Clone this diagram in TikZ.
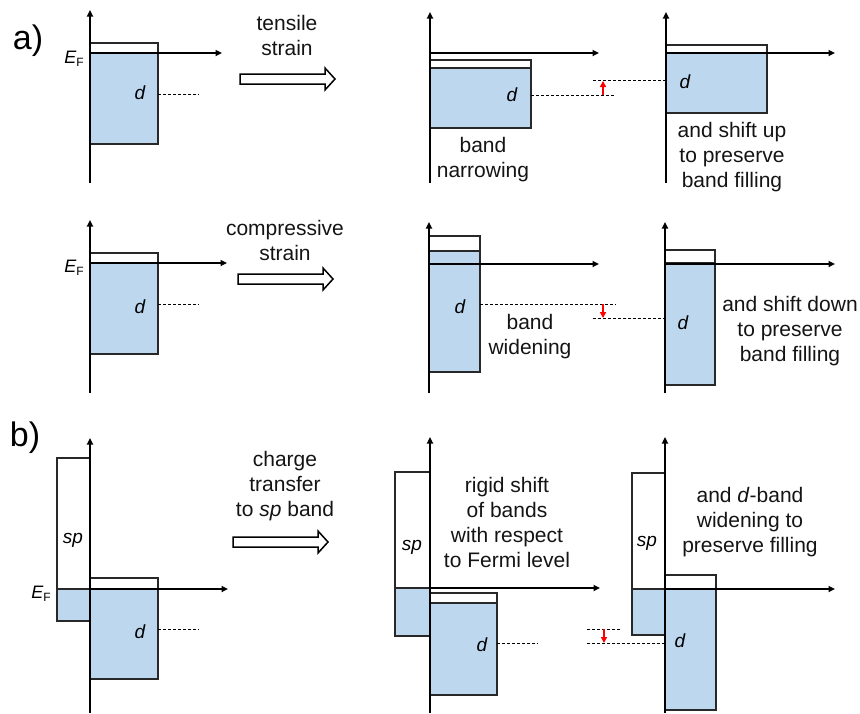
\documentclass[tikz,border=0pt]{standalone}
\usepackage{fontspec}
\setmainfont{Liberation Sans}
\usetikzlibrary{arrows.meta}
\definecolor{bandblue}{RGB}{189,215,238}
\definecolor{edgegray}{RGB}{40,40,40}
\definecolor{inkgray}{RGB}{20,20,20}
\begin{document}
\begin{tikzpicture}[x=1pt,y=-1pt,
  axis/.style={line width=1.7pt, -{Triangle[length=6.5pt,width=6pt]}},
  filledband/.style={fill=bandblue, draw=edgegray, line width=1.3pt},
  emptyband/.style={fill=white, draw=edgegray, line width=1.3pt},
  guide/.style={dash pattern=on 3pt off 2pt, line width=0.9pt},
  shiftarrow/.style={red, line width=1.5pt, -{Triangle[length=6pt,width=6pt]}},
  blockarrow/.style={draw=black, fill=white, line width=1.5pt},
  txt/.style={font=\fontsize{21}{25}\selectfont, align=center, text=inkgray},
  lab/.style={font=\fontsize{19}{19}\selectfont\itshape},
  panel/.style={font=\fontsize{34}{34}\selectfont},
  blockarr/.pic={\draw[blockarrow] (0,-5) -- (85,-5) -- (85,-11) -- (95,0) -- (85,11) -- (85,5) -- (0,5) -- cycle;}
]
\useasboundingbox (0,0) rectangle (860,713);
\newcommand{\EFlabel}{{\fontsize{18}{18}\selectfont\itshape E}{\fontsize{12}{12}\selectfont\raisebox{-3pt}{F}}}

% ---------------- a) row 1 ----------------
\node[panel] (pa) at (28,41) {a)};
% left
\draw[emptyband] (90,43) rectangle (158,53);
\draw[filledband] (90,53) rectangle (158,144);
\draw[axis] (90,183) -- (90,10);
\draw[axis] (90,53) -- (222,53);
\node[anchor=east, inner sep=0pt] (ef1) at (84,59) {\EFlabel};
\node[lab] (d11) at (140,93) {d};
\coordinate (g11a) at (158,94); \coordinate (g11b) at (199,94);
\draw[guide] (g11a) -- (g11b);
\node[txt] (t1) at (287,35) {tensile\\strain};
\pic at (240,79) {blockarr};
% middle
\draw[emptyband] (430,60) rectangle (531,68);
\draw[filledband] (430,68) rectangle (531,128);
\draw[axis] (430,183) -- (430,12);
\draw[axis] (430,53) -- (599,53);
\node[lab] (d12) at (512,95) {d};
\coordinate (g12a) at (531,95); \coordinate (g12b) at (615,95);
\draw[guide] (g12a) -- (g12b);
\coordinate (g13a) at (593,80); \coordinate (g13b) at (666,80);
\draw[guide] (g13a) -- (g13b);
\coordinate (r1a) at (603,95); \coordinate (r1b) at (603,81);
\draw[shiftarrow] (r1a) -- (r1b);
\node[txt] (t2) at (483,160) {band\\narrowing};
% right
\draw[emptyband] (666,45) rectangle (767,53);
\draw[filledband] (666,53) rectangle (767,113);
\draw[axis] (666,183) -- (666,12);
\draw[axis] (666,53) -- (835,53);
\node[lab] (d13) at (685,82) {d};
\node[txt] (t3) at (732,157) {and shift up\\to preserve\\band filling};

% ---------------- a) row 2 ----------------
\draw[emptyband] (90,253) rectangle (158,263);
\draw[filledband] (90,263) rectangle (158,354);
\draw[axis] (90,393) -- (90,220);
\draw[axis] (90,263) -- (227,263);
\node[anchor=east, inner sep=0pt] (ef2) at (84,268) {\EFlabel};
\node[lab] (d21) at (140,307) {d};
\coordinate (g21a) at (158,304); \coordinate (g21b) at (199,304);
\draw[guide] (g21a) -- (g21b);
\node[txt] (t4) at (285,240) {compressive\\strain};
\pic at (238,279) {blockarr};
% middle
\draw[emptyband] (429,236) rectangle (480,251);
\draw[filledband] (429,251) rectangle (480,372);
\draw[axis] (429,393) -- (429,222);
\draw[axis] (429,264) -- (599,264);
\node[lab] (d22) at (460,307) {d};
\coordinate (g22a) at (480,304); \coordinate (g22b) at (616,304);
\draw[guide] (g22a) -- (g22b);
\coordinate (g23a) at (593,318); \coordinate (g23b) at (665,318);
\draw[guide] (g23a) -- (g23b);
\coordinate (r2a) at (603,304); \coordinate (r2b) at (603,318);
\draw[shiftarrow] (r2a) -- (r2b);
\node[txt] (t5) at (530,337) {band\\widening};
% right
\draw[emptyband] (665,250) rectangle (715,263);
\draw[filledband] (665,263) rectangle (715,385);
\draw[axis] (665,393) -- (665,222);
\draw[axis] (665,264) -- (835,264);
\node[lab] (d23) at (683,323) {d};
\node[txt] (t6) at (790,331) {and shift down\\to preserve\\band filling};

% ---------------- b) ----------------
\node[panel] (pb) at (25,438) {b)};
% left
\draw[emptyband] (57,458) rectangle (90,589);
\draw[filledband] (57,589) rectangle (90,621);
\draw[emptyband] (90,578) rectangle (158,589);
\draw[filledband] (90,589) rectangle (158,679);
\draw[axis] (90,713) -- (90,438);
\draw[axis] (90,589) -- (228,589);
\node[anchor=east, inner sep=0pt] (ef3) at (51,594) {\EFlabel};
\node[lab] (sp31) at (73,540) {sp};
\node[lab] (d31) at (140,632) {d};
\coordinate (g31a) at (158,629); \coordinate (g31b) at (199,629);
\draw[guide] (g31a) -- (g31b);
\node[txt] (t7) at (285,486) {charge\\transfer\\to \textit{sp} band};
\pic at (233,542) {blockarr};
% middle
\draw[emptyband] (395,472) rectangle (430,588);
\draw[filledband] (395,588) rectangle (430,636);
\draw[emptyband] (430,593) rectangle (497,603);
\draw[filledband] (430,603) rectangle (497,695);
\draw[axis] (430,713) -- (430,437);
\draw[axis] (430,588) -- (600,588);
\node[lab] (sp32) at (412,547) {sp};
\node[lab] (d32) at (482,645) {d};
\coordinate (g32a) at (497,643); \coordinate (g32b) at (538,643);
\draw[guide] (g32a) -- (g32b);
\coordinate (g33a) at (587,629); \coordinate (g33b) at (620,629);
\draw[guide] (g33a) -- (g33b);
\coordinate (g34a) at (587,643); \coordinate (g34b) at (665,643);
\draw[guide] (g34a) -- (g34b);
\coordinate (r3a) at (604,629); \coordinate (r3b) at (604,643);
\draw[shiftarrow] (r3a) -- (r3b);
\node[txt] (t8) at (507,522) {rigid shift\\of bands\\with respect\\to Fermi level};
% right
\draw[emptyband] (632,473) rectangle (665,589);
\draw[filledband] (632,589) rectangle (665,635);
\draw[emptyband] (665,575) rectangle (716,589);
\draw[filledband] (665,589) rectangle (716,710);
\draw[axis] (665,713) -- (665,437);
\draw[axis] (665,589) -- (835,589);
\node[lab] (sp33) at (647,543) {sp};
\node[lab] (d33) at (680,641) {d};
\node[txt] (t9) at (750,522) {and \textit{d}-band\\widening to\\preserve filling};
\end{tikzpicture}
\end{document}
